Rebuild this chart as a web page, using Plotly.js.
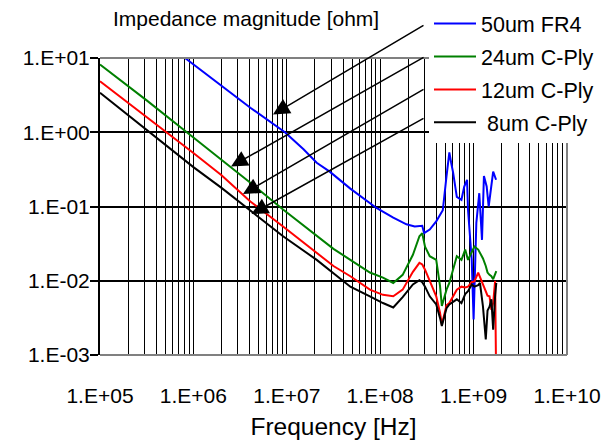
<!DOCTYPE html>
<html>
<head>
<meta charset="utf-8">
<script src="https://cdn.plot.ly/plotly-3.0.1.min.js"></script>
<style>html,body{margin:0;padding:0;background:#fff}#chart{width:604px;height:448px}</style>
</head>
<body>
<div id="chart"></div>
<script>
// ---- data ----
const seriesNames = ['50um FR4', '24um C-Ply', '12um C-Ply', ' 8um C-Ply'];

// frequency grid [Hz] shared by the C-Ply curves
const freqCPly = [1.00e5, 3.16e5, 1.00e6, 2.00e6, 4.07e6, 9.12e6, 2.09e7, 3.16e7, 4.79e7, 7.76e7,
  1.07e8, 1.38e8, 1.74e8, 2.24e8, 2.63e8, 2.82e8, 3.02e8, 3.39e8, 3.98e8, 4.37e8,
  4.57e8, 5.13e8, 5.50e8, 6.61e8, 7.41e8, 8.13e8, 8.71e8, 9.55e8, 1.02e9, 1.12e9,
  1.17e9, 1.26e9, 1.35e9, 1.41e9, 1.48e9, 1.55e9, 1.62e9, 1.70e9, 1.75e9];

// impedance magnitude [ohm]
const z24 = [8.17, 2.69, 0.851, 0.427, 0.209, 0.0912, 0.0398, 0.0269, 0.0191, 0.0129,
  0.0110, 0.00933, 0.0120, 0.0224, 0.0398, 0.0437, 0.0288, 0.0214, 0.0191, 0.00851,
  0.00457, 0.00759, 0.00933, 0.0214, 0.0191, 0.0263, 0.0191, 0.0240, 0.0288, 0.0263,
  0.0240, 0.0200, 0.0158, 0.0129, 0.0120, 0.0115, 0.0105, 0.0126, 0.0135];

const z12 = [4.86, 1.62, 0.525, 0.263, 0.117, 0.0537, 0.0234, 0.0158, 0.0115, 0.00759,
  0.00646, 0.00617, 0.00759, 0.0132, 0.0174, 0.0166, 0.0141, 0.0100, 0.00617, 0.00372,
  0.00257, 0.00468, 0.00501, 0.00759, 0.00832, 0.00813, 0.00832, 0.00955, 0.00977, 0.0129,
  0.0112, 0.00891, 0.00692, 0.00631, 0.00617, 0.00407, 0.00501, 0.0100, 0.000316];

const z8 = [3.40, 1.07, 0.339, 0.178, 0.0891, 0.0398, 0.0191, 0.0126, 0.00832, 0.00617,
  0.00501, 0.00437, 0.00603, 0.00891, 0.0102, 0.00955, 0.00832, 0.00617, 0.00479, 0.00316,
  0.00245, 0.00427, 0.00479, 0.00562, 0.00501, 0.00661, 0.00724, 0.00891, 0.00832, 0.00871,
  0.00933, 0.00447, 0.00162, 0.00398, 0.00447, 0.00562, 0.00219, 0.00631, 0.00933];

const freqFR4 = [8.13e5, 2.00e6, 4.07e6, 9.55e6, 1.51e7, 2.09e7, 2.88e7, 4.79e7, 7.76e7, 9.12e7,
  1.38e8, 1.91e8, 2.34e8, 2.82e8, 2.95e8, 3.39e8, 3.98e8, 4.68e8, 5.13e8, 5.50e8,
  5.75e8, 6.03e8, 6.61e8, 7.41e8, 7.94e8, 8.51e8, 8.71e8, 9.55e8, 1.00e9, 1.02e9,
  1.07e9, 1.15e9, 1.23e9, 1.29e9, 1.38e9, 1.45e9, 1.55e9, 1.62e9, 1.74e9];

const z50 = [10.0, 4.17, 2.14, 1.00, 0.589, 0.389, 0.295, 0.174, 0.112, 0.0955,
  0.0708, 0.0575, 0.0537, 0.0550, 0.0437, 0.0490, 0.0631, 0.0891, 0.257, 0.537,
  0.389, 0.288, 0.135, 0.123, 0.186, 0.229, 0.0912, 0.0191, 0.00302, 0.00933,
  0.0603, 0.151, 0.0355, 0.257, 0.186, 0.100, 0.209, 0.295, 0.229];

const xMajorVals = [1e5, 1e6, 1e7, 1e8, 1e9, 1e10];
const xTickLabels = ['1.E+05', '1.E+06', '1.E+07', '1.E+08', '1.E+09', '1.E+10'];
const yMajorVals = [1e-3, 1e-2, 1e-1, 1e0, 1e1];
const yTickLabels = ['1.E-03', '1.E-02', '1.E-01', '1.E+00', '1.E+01'];

// arrow tips (log10 coordinates on the axes) and tail offsets in pixels
const arrowTipX = [6.852, 6.403, 6.531, 6.622];
const arrowTipY = [0.239, -0.462, -0.833, -1.102];
const arrowAx = [152, 194, 182, 173.5];
const arrowAy = [-90, -110, -105.5, -96.5];

// ---- build ----
const FONT = 'Liberation Sans, Arial, sans-serif';
const colors = ['#0000FF', '#008000', '#FF0000', '#000000'];
const BORDER = '#808080';

const xVals = [], xText = [];
xMajorVals.forEach((v, i) => {
  xVals.push(v); xText.push(xTickLabels[i]);
  if (i < xMajorVals.length - 1) {
    for (let d = 2; d <= 9; d++) { xVals.push(v * d); xText.push(''); }
  }
});

const seriesX = [freqFR4, freqCPly, freqCPly, freqCPly];
const seriesY = [z50, z24, z12, z8];
const traces = seriesNames.map((n, i) => ({
  type: 'scatter', mode: 'lines', name: n,
  x: seriesX[i], y: seriesY[i],
  legendgroup: 'g' + i,
  line: {color: colors[i], width: 2}
}));

const annotations = arrowTipX.map((x, i) => ({
  x: x, y: arrowTipY[i], xref: 'x', yref: 'y', text: '',
  showarrow: true, ax: arrowAx[i], ay: arrowAy[i],
  arrowhead: 2, arrowsize: 2.2, arrowwidth: 1.5, arrowcolor: '#000'
}));

function edge(x0, y0, x1, y1) {
  return {type: 'line', xref: 'paper', yref: 'paper', x0: x0, y0: y0, x1: x1, y1: y1,
          line: {color: BORDER, width: 2}, layer: 'above'};
}

const layout = {
  width: 604, height: 448,
  margin: {l: 100, r: 37, t: 58, b: 93, autoexpand: false},
  paper_bgcolor: '#fff', plot_bgcolor: '#fff',
  font: {family: FONT, size: 21, color: '#000'},
  showlegend: true,
  title: {
    text: 'Impedance magnitude [ohm]',
    font: {family: FONT, size: 21, color: '#000'},
    xref: 'container', x: 113 / 604, xanchor: 'left',
    yref: 'container', y: 1 - 19 / 448, yanchor: 'middle'
  },
  xaxis: {
    type: 'log', range: [5, 10],
    tickmode: 'array', tickvals: xVals, ticktext: xText,
    ticks: '', showgrid: true, gridcolor: '#000', gridwidth: 1,
    showline: false, zeroline: false, ticklabelstandoff: 26, automargin: false,
    tickfont: {family: FONT, size: 21, color: '#000'},
    title: {text: 'Frequency [Hz]', font: {family: FONT, size: 24.5, color: '#000'}, standoff: 11}
  },
  yaxis: {
    type: 'log', range: [-3, 1],
    tickmode: 'array', tickvals: yMajorVals, ticktext: yTickLabels,
    ticks: 'outside', ticklen: 8, tickwidth: 2, tickcolor: '#000',
    showline: true, linecolor: '#000', linewidth: 2,
    showgrid: true, gridcolor: '#000', gridwidth: 2,
    zeroline: false, ticklabelstandoff: -4, automargin: false,
    tickfont: {family: FONT, size: 21, color: '#000'}
  },
  legend: {
    x: (429 - 100) / 467, y: (355 - 3) / 297, xanchor: 'left', yanchor: 'top',
    bgcolor: '#fff', borderwidth: 0, tracegroupgap: 2, itemwidth: 42,
    font: {family: FONT, size: 21.5, color: '#000'}
  },
  shapes: [edge(0, 1, 1, 1), edge(0, 0, 1, 0), edge(1, 0, 1, 1)],
  annotations: annotations
};

Plotly.newPlot('chart', traces, layout, {displayModeBar: false, staticPlot: true});
</script>
</body>
</html>
